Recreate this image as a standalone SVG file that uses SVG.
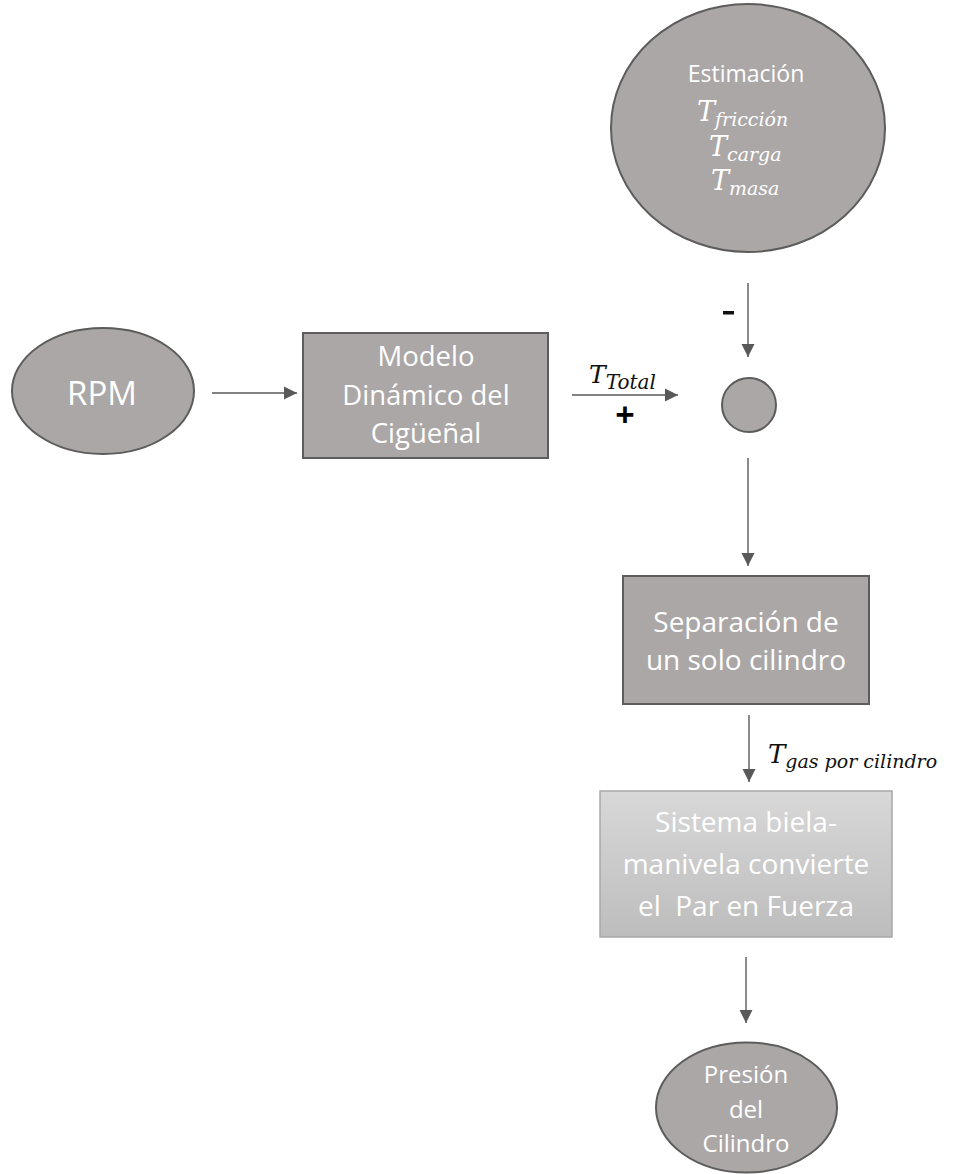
<svg xmlns="http://www.w3.org/2000/svg" width="979" height="1174" viewBox="0 0 979 1174">
<defs>
<marker id="ah" markerWidth="14" markerHeight="14" refX="13" refY="7" orient="auto" markerUnits="userSpaceOnUse">
<path d="M0,0.5 L13,7 L0,13.5 Z" fill="#595959"/>
</marker>
<linearGradient id="lg" x1="0" y1="0" x2="0" y2="1">
<stop offset="0" stop-color="#d8d8d8"/>
<stop offset="1" stop-color="#bdbdbd"/>
</linearGradient>
<style>
.nd{fill:#aba7a7;stroke:#5c5c5c;stroke-width:2}
.lt{fill:url(#lg);stroke:#a8a8a8;stroke-width:1.5}
.tx{font-family:"Open Sans","Liberation Sans",sans-serif;fill:#ffffff;text-anchor:middle}
.mt{font-family:"DejaVu Serif","Liberation Serif",serif;font-style:italic}
.mw{fill:#ffffff}
.mk{fill:#111111}
.cn{stroke:#595959;stroke-width:1.4;fill:none;marker-end:url(#ah)}
.sg{font-family:"Open Sans","Liberation Sans",sans-serif;font-weight:bold;fill:#000000;text-anchor:middle}
</style>
</defs>
<rect width="979" height="1174" fill="#ffffff"/>
<g id="connectors">
<line class="cn" x1="212" y1="393" x2="297" y2="393"/>
<line class="cn" x1="572" y1="395" x2="678" y2="395"/>
<line class="cn" x1="748" y1="283" x2="748" y2="357"/>
<line class="cn" x1="748" y1="458" x2="748" y2="566"/>
<line class="cn" x1="749" y1="715" x2="749" y2="782"/>
<line class="cn" x1="746" y1="957" x2="746" y2="1023"/>
</g>
<g id="estimacion">
<ellipse class="nd" cx="748" cy="128" rx="137" ry="124"/>
<text class="tx" x="746" y="82" font-size="23">Estimación</text>
<text class="mt mw" x="697" y="121" font-size="27">T<tspan font-size="19" dy="5">fricción</tspan></text>
<text class="mt mw" x="709" y="156" font-size="27">T<tspan font-size="19" dy="5">carga</tspan></text>
<text class="mt mw" x="711" y="190" font-size="27">T<tspan font-size="19" dy="5">masa</tspan></text>
</g>
<g id="rpm">
<ellipse class="nd" cx="103" cy="391" rx="91" ry="63"/>
<text class="tx" x="102" y="405" font-size="33">RPM</text>
</g>
<g id="modelo">
<rect class="nd" x="303" y="333" width="245" height="125"/>
<text class="tx" x="426" y="366" font-size="27.5">Modelo</text>
<text class="tx" x="426" y="405" font-size="27.5">Dinámico del</text>
<text class="tx" x="426" y="443" font-size="27.5">Cigüeñal</text>
</g>
<g id="ttotal-label">
<text class="mt mk" x="589" y="383" font-size="25">T<tspan font-size="20" dy="6">Total</tspan></text>
<text class="sg" x="625" y="427" font-size="34">+</text>
</g>
<g id="minus-label">
<rect x="723" y="311" width="11" height="3.5" fill="#111111"/>
</g>
<g id="suma">
<circle class="nd" cx="749" cy="405" r="27"/>
</g>
<g id="separacion">
<rect class="nd" x="623" y="576" width="246" height="128"/>
<text class="tx" x="746" y="632" font-size="28">Separación de</text>
<text class="tx" x="746" y="670" font-size="28">un solo cilindro</text>
</g>
<g id="tgas-label">
<text class="mt mk" x="768" y="763" font-size="26">T<tspan font-size="19" dy="5">gas por cilindro</tspan></text>
</g>
<g id="sistema">
<rect class="lt" x="600" y="791" width="292" height="146"/>
<text class="tx" x="746" y="832" font-size="28">Sistema biela-</text>
<text class="tx" x="746" y="874" font-size="28">manivela convierte</text>
<text class="tx" x="746" y="916" font-size="28" xml:space="preserve">el  Par en Fuerza</text>
</g>
<g id="presion">
<ellipse class="nd" cx="746.5" cy="1107.5" rx="90.5" ry="65"/>
<text class="tx" x="746" y="1083" font-size="24">Presión</text>
<text class="tx" x="746" y="1118" font-size="24">del</text>
<text class="tx" x="746" y="1152" font-size="24">Cilindro</text>
</g>
</svg>
